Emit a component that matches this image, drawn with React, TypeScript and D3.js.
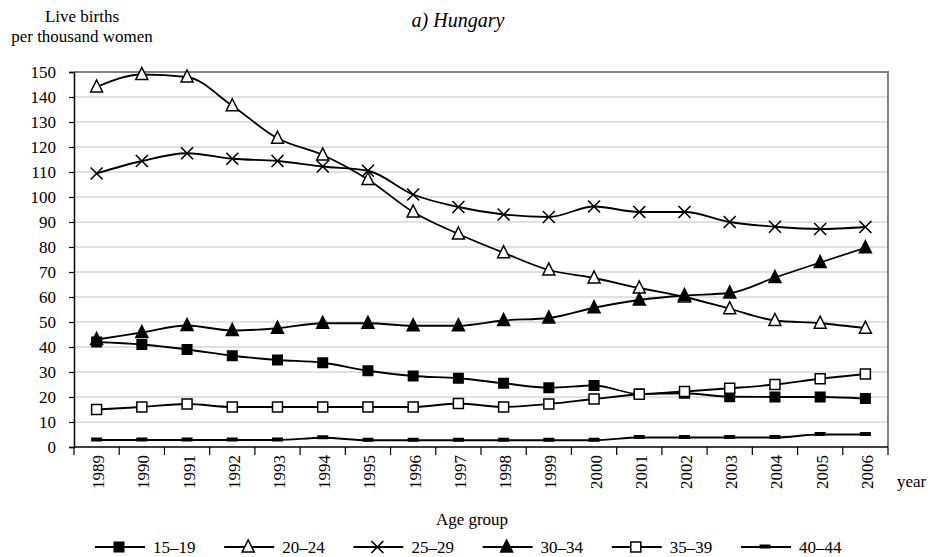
import React, { useEffect, useRef } from 'react';
import * as d3 from 'd3';

const years = ['1989', '1990', '1991', '1992', '1993', '1994', '1995', '1996', '1997', '1998', '1999', '2000', '2001', '2002', '2003', '2004', '2005', '2006'];
const yTicks = [0, 10, 20, 30, 40, 50, 60, 70, 80, 90, 100, 110, 120, 130, 140, 150];

const age15to19 = [42, 41, 39, 36.5, 34.8, 33.7, 30.5, 28.4, 27.5, 25.5, 23.7, 24.6, 21.2, 21.5, 20.1, 20, 20, 19.4];
const age20to24 = [144, 149, 148, 136.5, 123.5, 116.8, 107, 94, 85.2, 77.7, 70.8, 67.6, 63.6, 60, 55.3, 50.6, 49.5, 47.5];
const age25to29 = [109.4, 114.4, 117.5, 115.3, 114.4, 112.2, 110.5, 101, 96, 93, 92, 96.2, 94, 94, 90, 88.1, 87.2, 88];
const age30to34 = [43, 45.8, 48.6, 46.6, 47.5, 49.5, 49.5, 48.5, 48.5, 50.6, 51.6, 55.7, 58.8, 60.6, 61.6, 67.8, 73.8, 79.7];
const age35to39 = [15, 16, 17.2, 16, 16, 16, 16, 16, 17.4, 16, 17.2, 19.2, 21.1, 22.2, 23.5, 25, 27.3, 29.2];
const age40to44 = [2.8, 2.8, 2.8, 2.8, 2.8, 3.7, 2.7, 2.7, 2.7, 2.7, 2.7, 2.7, 3.8, 3.8, 3.8, 3.8, 5, 5];

const seriesNames = ['15–19', '20–24', '25–29', '30–34', '35–39', '40–44'];
const seriesValues = [age15to19, age20to24, age25to29, age30to34, age35to39, age40to44];
const markerKinds = ['square', 'triangleOpen', 'cross', 'triangle', 'squareOpen', 'dash'];

const FONT = '"Liberation Serif", "Times New Roman", serif';

function drawMarker(g: any, kind: string, cx: number, cy: number) {
  if (kind === 'square') {
    g.append('rect').attr('x', cx - 5.5).attr('y', cy - 5.5).attr('width', 11).attr('height', 11).attr('fill', '#000');
  } else if (kind === 'squareOpen') {
    g.append('rect').attr('x', cx - 5).attr('y', cy - 5).attr('width', 10).attr('height', 10)
      .attr('fill', '#fff').attr('stroke', '#000').attr('stroke-width', 1.5);
  } else if (kind === 'triangle' || kind === 'triangleOpen') {
    const p = `M${cx},${cy - 7}L${cx + 6},${cy + 5}L${cx - 6},${cy + 5}Z`;
    g.append('path').attr('d', p)
      .attr('fill', kind === 'triangle' ? '#000' : '#fff')
      .attr('stroke', '#000').attr('stroke-width', 1.5).attr('stroke-linejoin', 'miter');
  } else if (kind === 'cross') {
    g.append('path').attr('d', `M${cx - 6},${cy - 6}L${cx + 6},${cy + 6}M${cx - 6},${cy + 6}L${cx + 6},${cy - 6}`)
      .attr('stroke', '#000').attr('stroke-width', 1.6);
  } else if (kind === 'dash') {
    g.append('rect').attr('x', cx - 5.5).attr('y', cy - 2.5).attr('width', 11).attr('height', 4).attr('fill', '#000');
  }
}

const App = () => {
  const svgRef = useRef<SVGSVGElement>(null);

  useEffect(() => {
    const svg = d3.select(svgRef.current);
    svg.selectAll('*').remove();

    const width = 931;
    const height = 557;
    const margin = { top: 72, right: 43, bottom: 110, left: 74 };

    svg.attr('width', width).attr('height', height);

    const x = d3.scaleBand<string>()
      .domain(years)
      .range([margin.left, width - margin.right]);

    const y = d3.scaleLinear()
      .domain([0, 150])
      .range([height - margin.bottom, margin.top]);

    const cx = (yr: string) => (x(yr) as number) + x.bandwidth() / 2;

    // gridlines
    svg.append('g')
      .selectAll('line')
      .data(yTicks.filter(t => t > 0 && t < 150))
      .join('line')
      .attr('x1', margin.left).attr('x2', width - margin.right)
      .attr('y1', d => y(d)).attr('y2', d => y(d))
      .attr('stroke', '#c4c4c4').attr('stroke-width', 1.2);

    // frame top and right
    svg.append('path')
      .attr('d', `M${margin.left},${y(150)}H${width - margin.right}V${y(0)}`)
      .attr('fill', 'none').attr('stroke', '#808080').attr('stroke-width', 2);

    // y axis
    svg.append('g')
      .attr('transform', `translate(${margin.left},0)`)
      .call(d3.axisLeft(y).tickValues(yTicks).tickSize(5).tickPadding(13))
      .call(g => g.select('.domain').attr('stroke-width', 1.5))
      .call(g => g.selectAll('.tick line').attr('stroke-width', 1.2))
      .call(g => g.selectAll('text').attr('font-size', 17).attr('fill', '#000'));

    // x axis with ticks between categories
    const xAxisG = svg.append('g').attr('transform', `translate(0,${y(0)})`);
    xAxisG.append('line')
      .attr('x1', margin.left).attr('x2', width - margin.right)
      .attr('stroke', '#000').attr('stroke-width', 1.5);
    const bounds = years.map(yr => x(yr) as number).concat([width - margin.right]);
    xAxisG.selectAll('line.tk')
      .data(bounds)
      .join('line')
      .attr('class', 'tk')
      .attr('x1', d => d).attr('x2', d => d)
      .attr('y1', 0).attr('y2', 8)
      .attr('stroke', '#000').attr('stroke-width', 1.2);
    xAxisG.selectAll('text')
      .data(years)
      .join('text')
      .attr('transform', d => `translate(${cx(d) + 1.5},8) rotate(-90)`)
      .attr('text-anchor', 'end')
      .attr('dy', '0.35em')
      .attr('font-size', 17)
      .text(d => d);

    // lines
    const line = d3.line<number>()
      .x((_, i) => cx(years[i]))
      .y(d => y(d))
      .curve(d3.curveMonotoneX);

    seriesValues.forEach(vals => {
      svg.append('path')
        .datum(vals)
        .attr('d', line)
        .attr('fill', 'none')
        .attr('stroke', '#000')
        .attr('stroke-width', 1.8);
    });
    seriesValues.forEach((vals, si) => {
      const g = svg.append('g');
      vals.forEach((v, i) => drawMarker(g, markerKinds[si], cx(years[i]), y(v)));
    });

    // titles
    svg.append('text').attr('x', 458).attr('y', 27).attr('text-anchor', 'middle')
      .attr('font-size', 20).attr('font-style', 'italic').text('a) Hungary');
    svg.append('text').attr('x', 82).attr('y', 22).attr('text-anchor', 'middle')
      .attr('font-size', 17).text('Live births');
    svg.append('text').attr('x', 82).attr('y', 42).attr('text-anchor', 'middle')
      .attr('font-size', 17).text('per thousand women');
    svg.append('text').attr('x', 897).attr('y', 487)
      .attr('font-size', 17).text('year');
    svg.append('text').attr('x', 472).attr('y', 525).attr('text-anchor', 'middle')
      .attr('font-size', 17).text('Age group');

    // legend
    const legend = svg.append('g');
    seriesNames.forEach((name, si) => {
      const lx = 95 + si * 129.2;
      const ly = 547;
      const g = legend.append('g');
      g.append('line').attr('x1', lx).attr('x2', lx + 50).attr('y1', ly).attr('y2', ly)
        .attr('stroke', '#000').attr('stroke-width', 1.8);
      drawMarker(g, markerKinds[si], lx + 24, ly);
      g.append('text').attr('x', lx + 58).attr('y', ly).attr('dy', '0.35em')
        .attr('font-size', 17).text(name);
    });

    svg.selectAll('text').style('font-family', FONT);
  }, []);

  return <svg ref={svgRef} style={{ position: 'absolute', left: 0, top: 0 }}></svg>;
};

export default App;
